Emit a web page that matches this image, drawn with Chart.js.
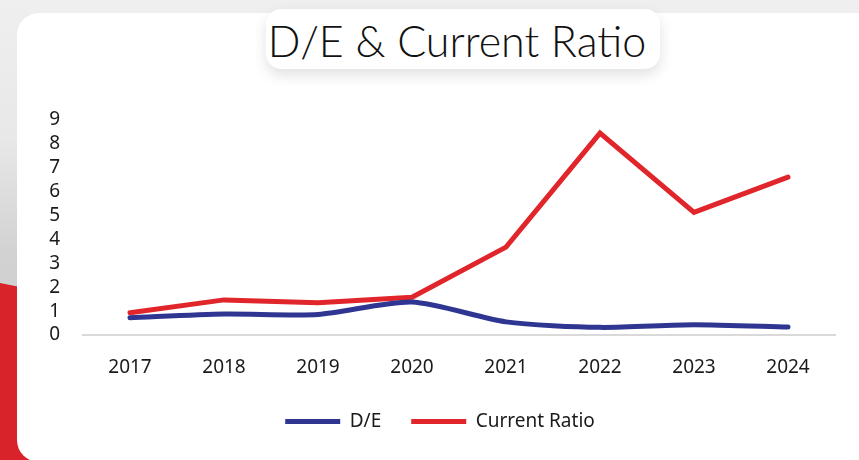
<!DOCTYPE html>
<html>
<head>
<meta charset="utf-8">
<script src="https://cdn.jsdelivr.net/npm/chart.js@4"></script>
<style>
  html, body { margin: 0; padding: 0; }
  body {
    width: 859px; height: 460px; overflow: hidden; position: relative;
    background: linear-gradient(180deg, #efefef 0%, #e8e8e8 30%, #d2d2d2 55%, #c6c6c6 100%);
    font-family: "Noto Sans", sans-serif;
  }
  #red {
    position: absolute; left: 0; top: 280px; width: 40px; height: 200px;
    background: #d8232a;
    clip-path: polygon(0 3px, 100% 11px, 100% 100%, 0 100%);
  }
  #card {
    position: absolute; left: 17px; top: 13px; width: 900px; height: 449px;
    background: #ffffff; border-radius: 22px;
  }
  #titlebox {
    position: absolute; left: 266px; top: 9px; width: 382px; height: 60px;
    padding-right: 12px;
    background: #ffffff; border-radius: 15px;
    box-shadow: 0 6px 14px rgba(0,0,0,0.12);
    font-family: Lato, "Noto Sans", sans-serif; font-weight: 300; font-size: 43px;
    color: #111; text-align: center; line-height: 64px; white-space: nowrap;
  }
  #chart { position: absolute; left: 0; top: 0; }
</style>
</head>
<body>
<div id="red"></div>
<div id="card"></div>
<div id="titlebox">D/E &amp; Current Ratio</div>
<canvas id="chart" width="859" height="460"></canvas>
<script>
const years = ["2017", "2018", "2019", "2020", "2021", "2022", "2023", "2024"];
const debtToEquity = [0.72, 0.88, 0.86, 1.38, 0.55, 0.32, 0.43, 0.33];
const currentRatio = [0.93, 1.47, 1.35, 1.58, 3.68, 8.45, 5.13, 6.61];
const yTicks = [0, 1, 2, 3, 4, 5, 6, 7, 8, 9];

const tickFont = { family: "'Noto Sans', sans-serif", size: 19 };

new Chart(document.getElementById('chart'), {
  type: 'line',
  data: {
    labels: years,
    datasets: [
      {
        label: 'D/E',
        data: debtToEquity,
        borderColor: '#2e3692',
        backgroundColor: '#2e3692',
        borderWidth: 5,
        tension: 0.25,
        pointRadius: 0,
        pointHoverRadius: 0,
        pointStyle: 'line',
        borderCapStyle: 'round',
        borderJoinStyle: 'round',
        fill: false
      },
      {
        label: 'Current Ratio',
        data: currentRatio,
        borderColor: '#e0262b',
        backgroundColor: '#e0262b',
        borderWidth: 5,
        tension: 0,
        pointRadius: 0,
        pointHoverRadius: 0,
        pointStyle: 'line',
        borderCapStyle: 'round',
        borderJoinStyle: 'miter',
        fill: false
      }
    ]
  },
  options: {
    responsive: false,
    animation: false,
    devicePixelRatio: 1,
    layout: { padding: { top: 120, left: 45, right: 24, bottom: 19 } },
    plugins: {
      title: { display: false },
      tooltip: { enabled: false },
      legend: {
        display: true,
        position: 'bottom',
        maxHeight: 60,
        labels: {
          usePointStyle: true,
          pointStyleWidth: 55,
          boxHeight: 19,
          padding: 30,
          color: '#1a1a1a',
          font: tickFont
        }
      }
    },
    scales: {
      x: {
        offset: true,
        grid: { display: false, drawTicks: false },
        border: { display: true, color: '#d9d9d9', width: 2 },
        ticks: { color: '#1a1a1a', font: tickFont, padding: 21, maxRotation: 0, autoSkip: false },
        afterFit: (scale) => { scale.height = 47; }
      },
      y: {
        min: yTicks[0],
        max: yTicks[yTicks.length - 1],
        afterBuildTicks: (axis) => { axis.ticks = yTicks.map(v => ({ value: v })); },
        grid: { display: false, drawTicks: false },
        border: { display: false },
        ticks: { color: '#1a1a1a', font: tickFont, padding: 23, autoSkip: false },
        afterFit: (scale) => { scale.width = 38; }
      }
    }
  }
});
</script>
</body>
</html>
